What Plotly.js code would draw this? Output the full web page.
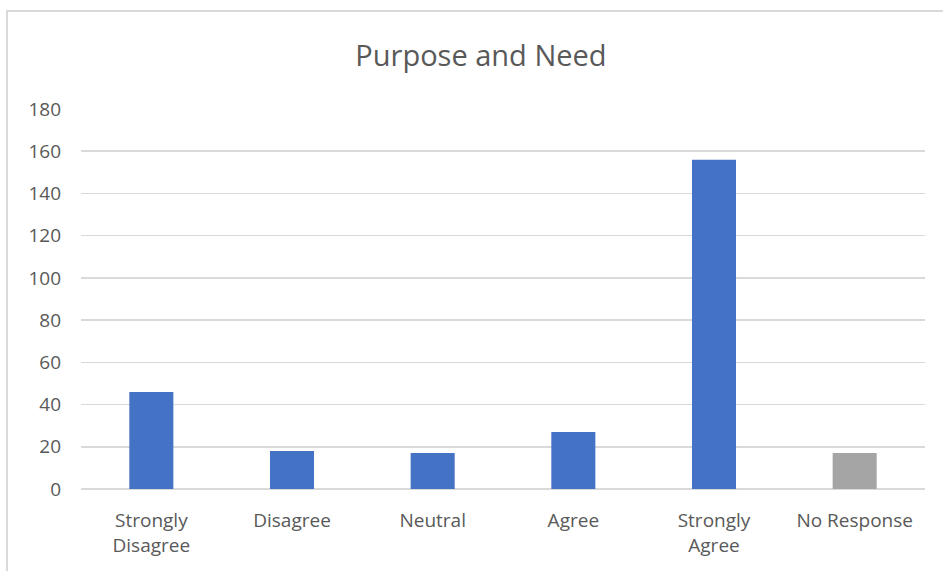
<!DOCTYPE html>
<html>
<head>
<meta charset="utf-8">
<script src="https://cdn.plot.ly/plotly-3.0.1.min.js"></script>
<style>
  html, body { margin: 0; padding: 0; background: #ffffff; }
  #frame { position: absolute; left: 6px; top: 10px; width: 960px; height: 600px; border-left: 2px solid #d9d9d9; border-top: 2px solid #d9d9d9; }
  #chart { position: absolute; left: 0; top: 0; width: 943px; height: 571px; }
</style>
</head>
<body>
<div id="frame"></div>
<div id="chart"></div>
<script>
const categories = ["Strongly<br>Disagree", "Disagree", "Neutral", "Agree", "Strongly<br>Agree", "No Response"];
const values = [46, 18, 17, 27, 156, 17];
const barColors = ["#4472C4", "#4472C4", "#4472C4", "#4472C4", "#4472C4", "#A5A5A5"];
const yTicks = [0, 20, 40, 60, 80, 100, 120, 140, 160, 180];

const trace = {
  type: "bar",
  x: categories,
  y: values,
  marker: { color: barColors, line: { width: 0 } },
  hoverinfo: "x+y"
};

const layout = {
  width: 943,
  height: 571,
  paper_bgcolor: "rgba(0,0,0,0)",
  plot_bgcolor: "rgba(0,0,0,0)",
  margin: { l: 81, r: 18, t: 109, b: 82 },
  bargap: 0.687,
  showlegend: false,
  title: {
    text: "Purpose and Need",
    x: 0.51,
    xanchor: "center",
    y: 0.903,
    yanchor: "middle",
    font: { family: "Open Sans, sans-serif", size: 29, color: "#595959" }
  },
  xaxis: {
    type: "category",
    showgrid: false,
    showline: false,
    zeroline: false,
    ticks: "",
    tickfont: { family: "Open Sans, sans-serif", size: 19, color: "#595959" },
    ticklabelstandoff: 18
  },
  yaxis: {
    range: [0, 180],
    tickvals: yTicks,
    ticktext: yTicks.map(String),
    showgrid: true,
    gridcolor: "#d9d9d9",
    gridwidth: 1.5,
    zeroline: true,
    zerolinecolor: "#d9d9d9",
    zerolinewidth: 1.5,
    showline: false,
    ticks: "",
    tickfont: { family: "Open Sans, sans-serif", size: 19, color: "#595959" },
    ticklabelstandoff: 19,
    fixedrange: true
  }
};

Plotly.newPlot("chart", [trace], layout, { displayModeBar: false, staticPlot: true });
</script>
</body>
</html>
